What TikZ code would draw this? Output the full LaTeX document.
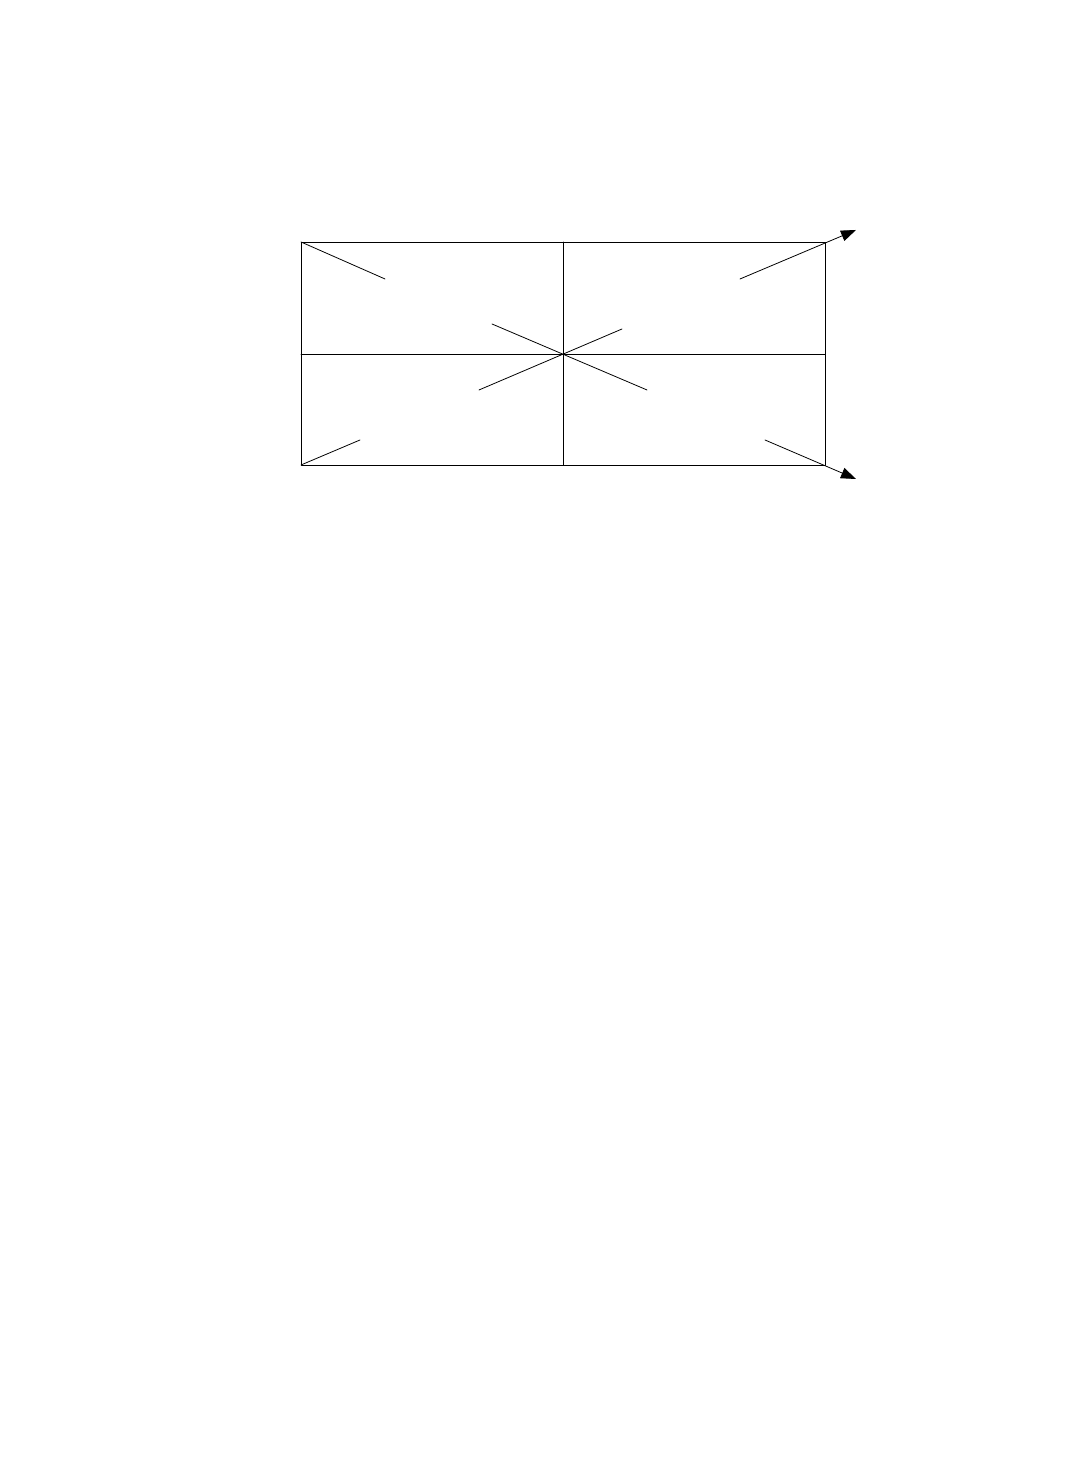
\documentclass[tikz,border=0pt]{standalone}
\usepackage{amssymb}
\usepackage{amsmath}
\usepackage{pgf,tikz}
\usepackage{tkz-euclide}
\usepackage{xcolor}
\usetikzlibrary{arrows.meta, calc}

\begin{document}
\begin{tikzpicture}
    \useasboundingbox (0,0) rectangle (21.64,29.6);
    \tkzDefPoint(6.02,24.76){a_1}
    \tkzDefPoint(16.50,24.76){a_2}
    \tkzDefPoint(16.50,20.30){a_3}
    \tkzDefPoint(6.02,20.30){a_4}
    \tkzDefPoint(11.26,24.76){m_1}
    \tkzDefPoint(16.50,22.52){m_2}
    \tkzDefPoint(11.26,20.30){m_3}
    \tkzDefPoint(6.02,22.52){m_4}
    \tkzDefPoint(7.70,24.02){p_1}
    \tkzDefPoint(14.80,24.02){p_2}
    \tkzDefPoint(15.30,20.80){p_3}
    \tkzDefPoint(7.20,20.80){p_4}
    \tkzDefPoint(9.84,23.12){c_1}
    \tkzDefPoint(12.94,21.80){c_2}
    \tkzDefPoint(9.58,21.80){c_3}
    \tkzDefPoint(12.44,23.02){c_4}
    \tkzDefPoint(17.12,25.00){t_1}
    \tkzDefPoint(17.12,20.02){t_2}
    \tkzDrawPolygon[line width=0.45pt](a_1,a_2,a_3,a_4)
    \tkzDrawSegments[line width=0.45pt](m_1,m_3 m_4,m_2 a_1,p_1 a_4,p_4 c_1,c_2 c_3,c_4)
    \tkzDrawSegments[line width=0.45pt,-{Triangle[length=3mm,width=2.2mm]}](p_2,t_1 p_3,t_2)
    \end{tikzpicture}
\end{document}
